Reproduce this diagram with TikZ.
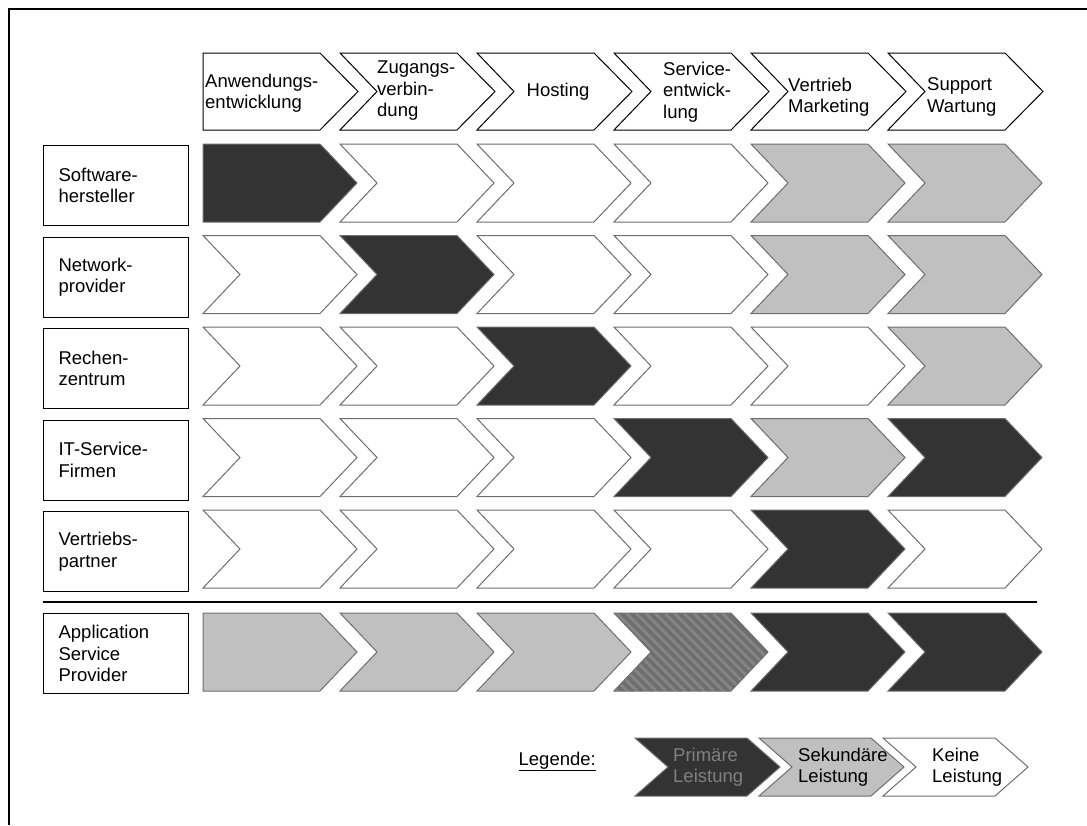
\documentclass[tikz,border=0pt]{standalone}
\usepackage{fontspec}
\setmainfont{Liberation Sans}
\definecolor{prim}{HTML}{333333}
\definecolor{sek}{HTML}{C0C0C0}
\definecolor{hatchbg}{HTML}{858585}
\definecolor{edge}{HTML}{6E6E6E}

% chevron: [style] {left x}{top y}{flat width}{tip depth}{height}{notch depth}
\newcommand\chev[7][]{%
  \path[#1] ({#2},{#3}) -- ({#2+#4},{#3}) -- ({#2+#4+#5},{#3+#6/2})
    -- ({#2+#4},{#3+#6}) -- ({#2},{#3+#6}) -- ({#2+#7},{#3+#6/2}) -- cycle;}

% one row of six chevrons: {top y}{notch of first}{styles}
\newcommand\chevrow[3]{%
  \foreach \st [count=\c] in {#3}{%
    \pgfmathtruncatemacro\xx{203+137*(\c-1)}%
    \ifnum\c=1 \def\nd{#2}\else\def\nd{37}\fi
    \edef\doit{\noexpand\chev[\st]{\xx}{#1}{117}{37}{78}{\nd}}\doit
  }}

\tikzset{
  every node/.style={font=\fontsize{18.5pt}{21.5pt}\selectfont, inner sep=0pt},
  head/.style={fill=white, draw=black, line width=1pt},
  none/.style={fill=white, draw=edge, line width=1pt},
  prim/.style={fill=prim, draw=edge, line width=1pt},
  sek/.style={fill=sek, draw=edge, line width=1pt},
  lbl/.style={draw=black, line width=1.2pt, anchor=north west,
    minimum width=145pt, minimum height=80pt, text width=115pt,
    inner xsep=15pt, align=left},
  htext/.style={anchor=west, align=left},
}

\begin{document}
\begin{tikzpicture}[x=1pt,y=-1pt]
\useasboundingbox (0,0) rectangle (1087,825);

% page frame
\draw[line width=2pt] (1087,9) -- (9,9) -- (9,825);

% header chevrons
\foreach \c in {1,...,6}{%
  \pgfmathtruncatemacro\xx{203+137*(\c-1)}%
  \ifnum\c=1 \def\nd{0}\else\def\nd{37}\fi
  \chev[head]{\xx}{53}{117}{38}{77}{\nd}
}
\node[htext] (hA) at (205,93) {Anwendungs-\\entwicklung};
\node[htext] (hZ) at (377,91) {Zugangs-\\verbin-\\dung};
\node (hH) at (558,92) {Hosting};
\node[htext] (hS) at (663,92) {Service-\\entwick-\\lung};
\node[htext] (hV) at (788,97) {Vertrieb\\Marketing};
\node[htext] (hW) at (927,97) {Support\\Wartung};

% rows
\node[lbl] (r1) at (43,145) {Software-\\hersteller};
\chevrow{144}{0}{prim,none,none,none,sek,sek}
\node[lbl] (r2) at (43,236.5) {Network-\\provider};
\chevrow{235.5}{37}{none,prim,none,none,sek,sek}
\node[lbl] (r3) at (43,328) {Rechen-\\zentrum};
\chevrow{327}{37}{none,none,prim,none,none,sek}
\node[lbl] (r4) at (43,419.5) {IT-Service-\\Firmen};
\chevrow{418.5}{37}{none,none,none,prim,sek,prim}
\node[lbl] (r5) at (43,511) {Vertriebs-\\partner};
\chevrow{510}{37}{none,none,none,none,prim,none}

% separator
\draw[line width=1.3pt] (43,602) -- (1037,602);

% application service provider row
\node[lbl] (r6) at (43,613) {Application\\Service\\Provider};
\chev[sek]{203}{613}{117}{37}{78}{0}
\chev[sek]{340}{613}{117}{37}{78}{37}
\chev[sek]{477}{613}{117}{37}{78}{37}
\begin{scope}
  \chev[clip]{614}{613}{117}{37}{78}{37}
  \fill[hatchbg] (600,600) rectangle (790,700);
  \foreach \k in {0,...,26}
    \draw[prim, line width=3.6pt] ({530+9.6*\k},608) -- ++(88,88);
\end{scope}
\chev[draw=edge, line width=1pt]{614}{613}{117}{37}{78}{37}
\chev[prim]{751}{613}{117}{37}{78}{37}
\chev[prim]{888}{613}{117}{37}{78}{37}

% legend
\node[anchor=base east] (leg) at (596,765) {\underline{Legende:}};
\chev[prim]{635}{738}{112}{33}{58}{33}
\chev[sek]{759}{738}{112}{33}{58}{33}
\chev[none]{883}{738}{112}{33}{58}{33}
\node[htext, text=black!50] (lP) at (673,767) {Primäre\\Leistung};
\node[htext] (lS) at (798,767) {Sekundäre\\Leistung};
\node[htext] (lK) at (932,767) {Keine\\Leistung};
\end{tikzpicture}
\end{document}
